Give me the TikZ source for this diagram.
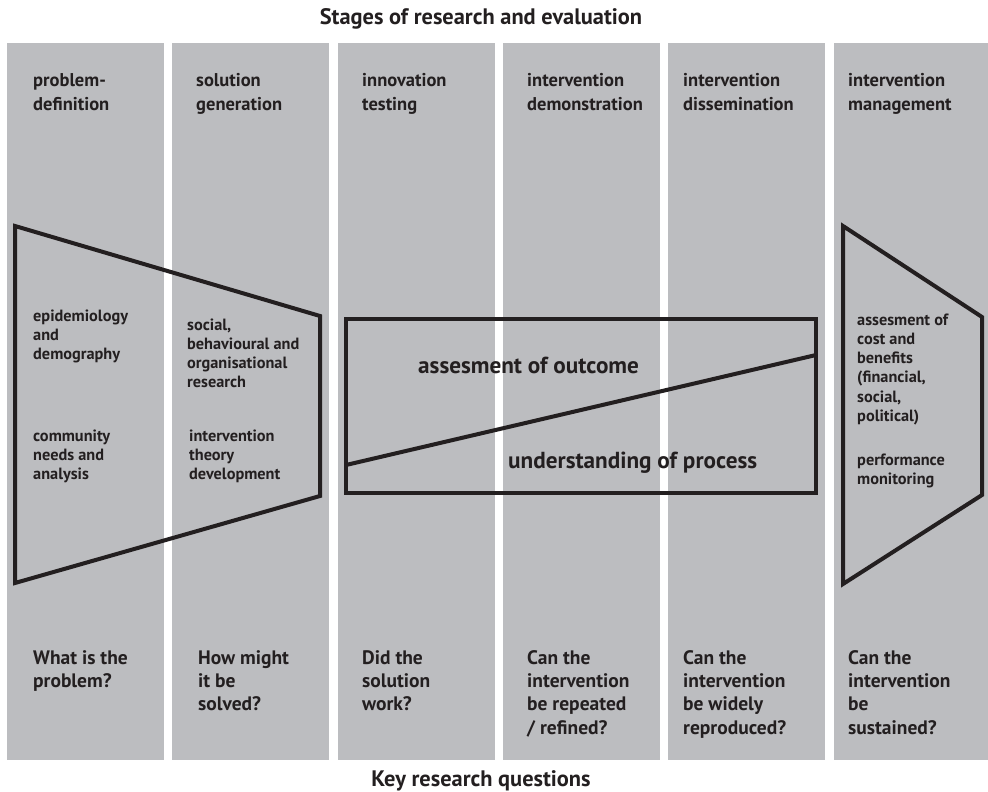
\documentclass[tikz,border=0pt]{standalone}
\usepackage{fontspec}
\setmainfont{PT Sans}
\definecolor{stagegray}{RGB}{188,189,192}
\definecolor{ink}{RGB}{35,31,32}
\begin{document}
\begin{tikzpicture}[x=1pt,y=-1pt,
  stagecol/.style={fill=stagegray,draw=none,anchor=north west,minimum width=157pt,minimum height=717pt,inner sep=0pt},
  frame/.style={draw=ink,line width=4pt,line join=miter},
  caption/.style={text=ink,font=\fontsize{22.4}{26}\selectfont\bfseries,anchor=base,inner sep=0pt},
  % multi-line nodes are placed by the baseline of their last line
  heading/.style={text=ink,font=\fontsize{18.5}{23.7}\selectfont\bfseries,align=left,anchor=base west,inner sep=0pt},
  small/.style={text=ink,font=\fontsize{16.3}{19.3}\selectfont\bfseries,align=left,anchor=base west,inner sep=0pt},
  big/.style={text=ink,font=\fontsize{23.2}{26}\selectfont\bfseries,anchor=base west,inner sep=0pt},
  question/.style={text=ink,font=\fontsize{19.5}{23.4}\selectfont\bfseries,align=left,anchor=base west,inner sep=0pt}]
\useasboundingbox (0,0) rectangle (988,792);

% stage columns
\node[stagecol] (c1) at (7,43) {};
\node[stagecol] (c2) at (172,43) {};
\node[stagecol] (c3) at (338,43) {};
\node[stagecol] (c4) at (503,43) {};
\node[stagecol] (c5) at (668,43) {};
\fill[stagegray] (834,43) rectangle (988,760);

% titles
\node[caption] (top) at (481,25) {Stages of research and evaluation};
\node[caption] (bottom) at (481,786) {Key research questions};

% stage headings
\node[heading] (h1) at (33,110.2) {problem-\\definition};
\node[heading] (h2) at (196,110.2) {solution\\generation};
\node[heading] (h3) at (362,110.2) {innovation\\testing};
\node[heading] (h4) at (527,110.2) {intervention\\demonstration};
\node[heading] (h5) at (683,110.2) {intervention\\dissemination};
\node[heading] (h6) at (848,110.2) {intervention\\management};

% funnel of problem definition and solution generation
\draw[frame] (15,226) -- (320,316) -- (320,496) -- (15,583) -- cycle;
\node[small] (e1) at (33,359.6) {epidemiology\\and\\demography};
\node[small] (e2) at (33,479.6) {community\\needs and\\analysis};
\node[small] (s1) at (187,387.9) {social,\\behavioural and\\organisational\\research};
\node[small] (s2) at (189,479.6) {intervention\\theory\\development};

% outcome and process frame
\draw[frame] (346,319) rectangle (816,493);
\draw[frame] (346,465) -- (816,355);
\node[big] (o1) at (418,373) {assesment of outcome};
\node[big] (o2) at (508,468) {understanding of process};

% management funnel
\draw[frame] (843,226) -- (982,317) -- (982,495) -- (843,584) -- cycle;
\node[small] (m1) at (857,421.5) {assesment of\\cost and\\benefits\\(financial,\\social,\\political)};
\node[small] (m2) at (857,484.3) {performance\\monitoring};

% key questions
\node[question] (q1) at (33,687.4) {What is the\\problem?};
\node[question] (q2) at (198,710.8) {How might\\it be\\solved?};
\node[question] (q3) at (362,710.8) {Did the\\solution\\work?};
\node[question] (q4) at (527,734.2) {Can the\\intervention\\be repeated\\/ refined?};
\node[question] (q5) at (683,734.2) {Can the\\intervention\\be widely\\reproduced?};
\node[question] (q6) at (848,734.2) {Can the\\intervention\\be\\sustained?};
\end{tikzpicture}
\end{document}
